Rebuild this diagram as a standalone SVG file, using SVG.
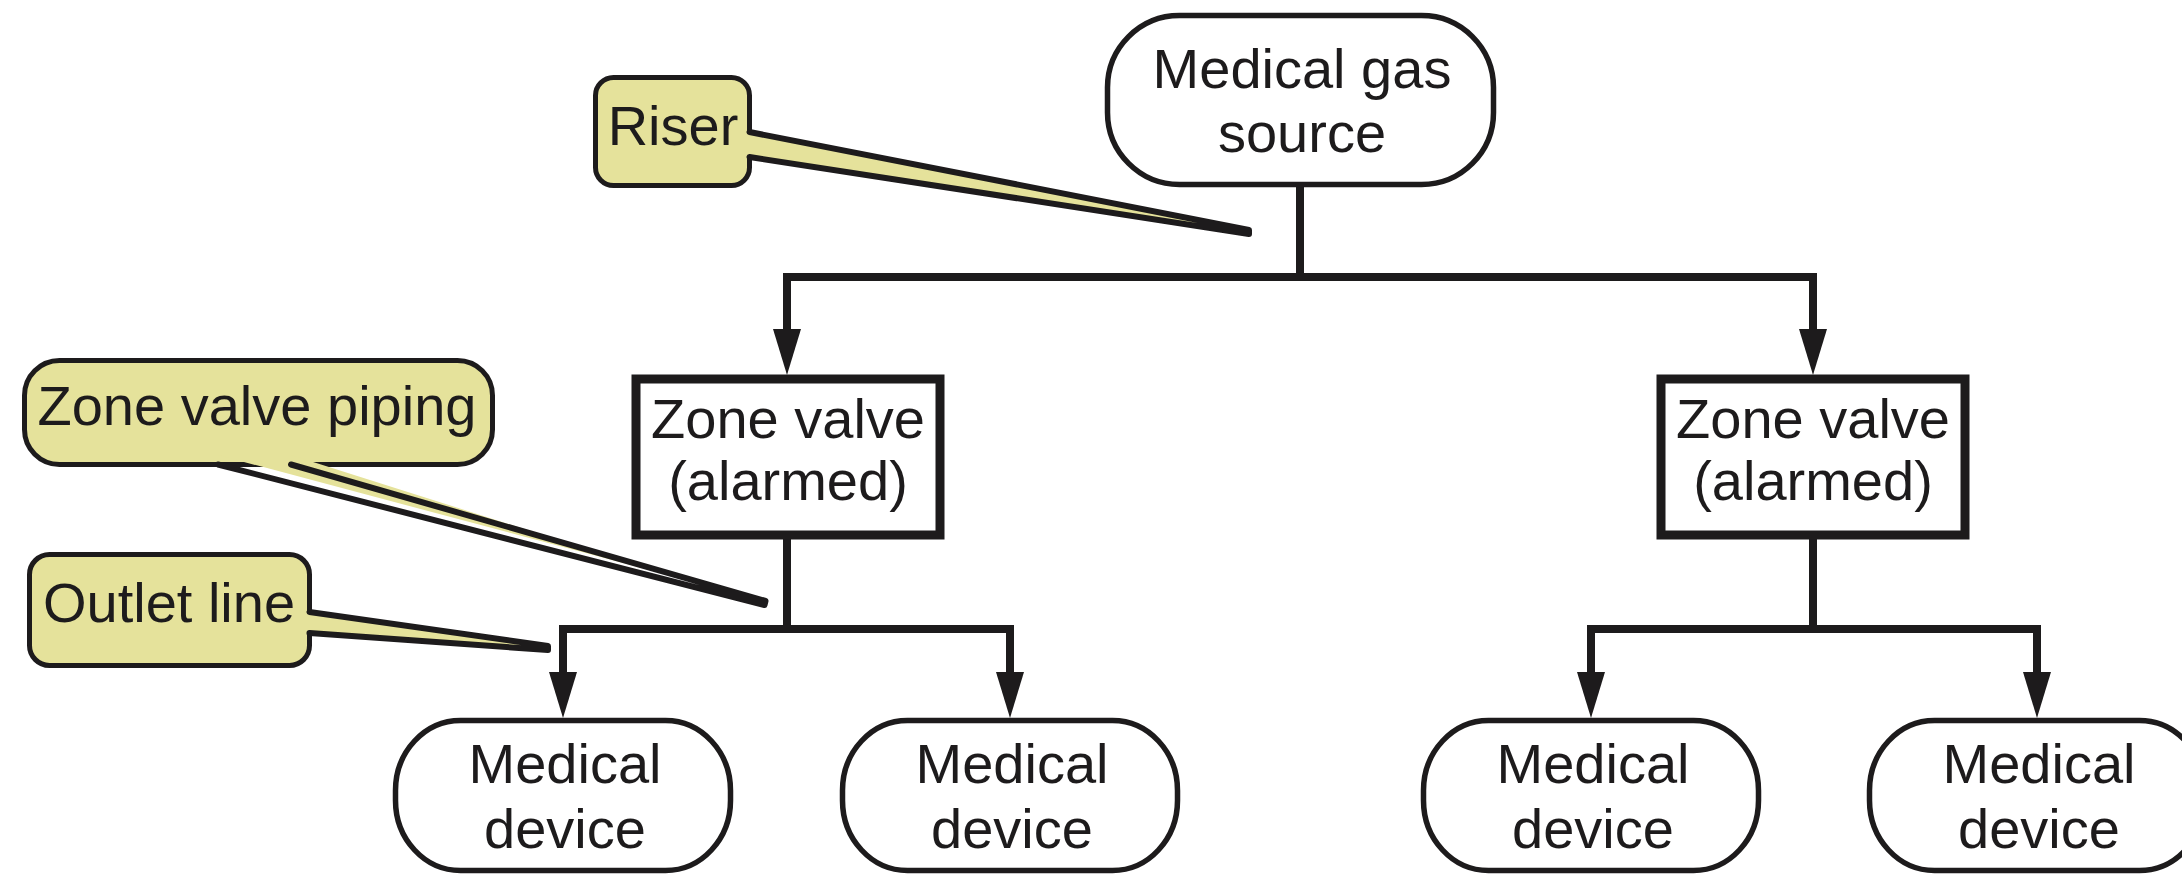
<svg xmlns="http://www.w3.org/2000/svg" xmlns:xlink="http://www.w3.org/1999/xlink" width="2182" height="876" viewBox="0 0 2182 876">
<style>
.t{font-family:"Liberation Sans",Arial,sans-serif;font-size:56px;fill:#1d1b1c;text-anchor:middle}
.pill{fill:#fff;stroke:#1d1b1c;stroke-width:5.5}
.box{fill:#fff;stroke:#1d1b1c;stroke-width:9}
.call{fill:#e5e29b;stroke:#1d1b1c;stroke-width:5}
.wf{fill:#e5e29b;stroke:none}
.we{fill:none;stroke:#1d1b1c;stroke-width:6;stroke-linecap:round;stroke-linejoin:round}
.ln{fill:none;stroke:#1d1b1c;stroke-width:8;stroke-linejoin:miter}
</style>
<defs>
<path id="ah" d="M-14,-46 L14,-46 L0,0 Z" fill="#1d1b1c"/>
</defs>
<rect width="2182" height="876" fill="#fff"/>
<g id="connectors">
<path class="ln" d="M1300,186 V277"/>
<path class="ln" d="M787,332 V277 H1813 V332"/>
<use xlink:href="#ah" x="787" y="375"/>
<use xlink:href="#ah" x="1813" y="375"/>
<path class="ln" d="M787,538 V629"/>
<path class="ln" d="M563,675 V629 H1010 V675"/>
<use xlink:href="#ah" x="563" y="718"/>
<use xlink:href="#ah" x="1010" y="718"/>
<path class="ln" d="M1813,538 V629"/>
<path class="ln" d="M1591,675 V629 H2037 V675"/>
<use xlink:href="#ah" x="1591" y="718"/>
<use xlink:href="#ah" x="2037" y="718"/>
</g>
<g id="source">
<rect class="pill" x="1107.5" y="15.5" width="386" height="169" rx="72" ry="72"/>
<text class="t" x="1302" y="88">Medical gas</text>
<text class="t" x="1302" y="152">source</text>
</g>
<g id="zone-left">
<rect class="box" x="636" y="379" width="304" height="156"/>
<text class="t" x="788" y="438">Zone valve</text>
<text class="t" x="788" y="500">(alarmed)</text>
</g>
<g id="zone-right">
<rect class="box" x="1661" y="379" width="304" height="156"/>
<text class="t" x="1813" y="438">Zone valve</text>
<text class="t" x="1813" y="500">(alarmed)</text>
</g>
<g id="device-1">
<rect class="pill" x="395.5" y="720.5" width="335" height="150" rx="65" ry="70"/>
<text class="t" x="565" y="783">Medical</text>
<text class="t" x="565" y="848">device</text>
</g>
<g id="device-2">
<rect class="pill" x="842.5" y="720.5" width="335" height="150" rx="65" ry="70"/>
<text class="t" x="1012" y="783">Medical</text>
<text class="t" x="1012" y="848">device</text>
</g>
<g id="device-3">
<rect class="pill" x="1423.5" y="720.5" width="335" height="150" rx="65" ry="70"/>
<text class="t" x="1593" y="783">Medical</text>
<text class="t" x="1593" y="848">device</text>
</g>
<g id="device-4">
<rect class="pill" x="1869.5" y="720.5" width="335" height="150" rx="65" ry="70"/>
<text class="t" x="2039" y="783">Medical</text>
<text class="t" x="2039" y="848">device</text>
</g>
<g id="callout-riser">
<rect class="call" x="595.5" y="77.5" width="154" height="108" rx="18"/>
<polygon class="wf" points="740,132 1249,230 1249,234 740,157"/>
<polyline class="we" points="749.5,132 1249,230 1249,234 749.5,157"/>
<text class="t" x="673" y="145">Riser</text>
</g>
<g id="callout-zone-piping">
<rect class="call" x="24.5" y="360.5" width="468" height="104" rx="35"/>
<polygon class="wf" points="218,455 765.5,601 764.5,605 291,455"/>
<polyline class="we" points="218,464.5 764.5,605 765.5,601 291,464.5"/>
<text class="t" x="257" y="425">Zone valve piping</text>
</g>
<g id="callout-outlet">
<rect class="call" x="29.5" y="554.5" width="280" height="111" rx="20"/>
<polygon class="wf" points="300,612 548,646 548,650 300,633"/>
<polyline class="we" points="309.5,612 548,646 548,650 309.5,633"/>
<text class="t" x="169" y="622">Outlet line</text>
</g>
</svg>
